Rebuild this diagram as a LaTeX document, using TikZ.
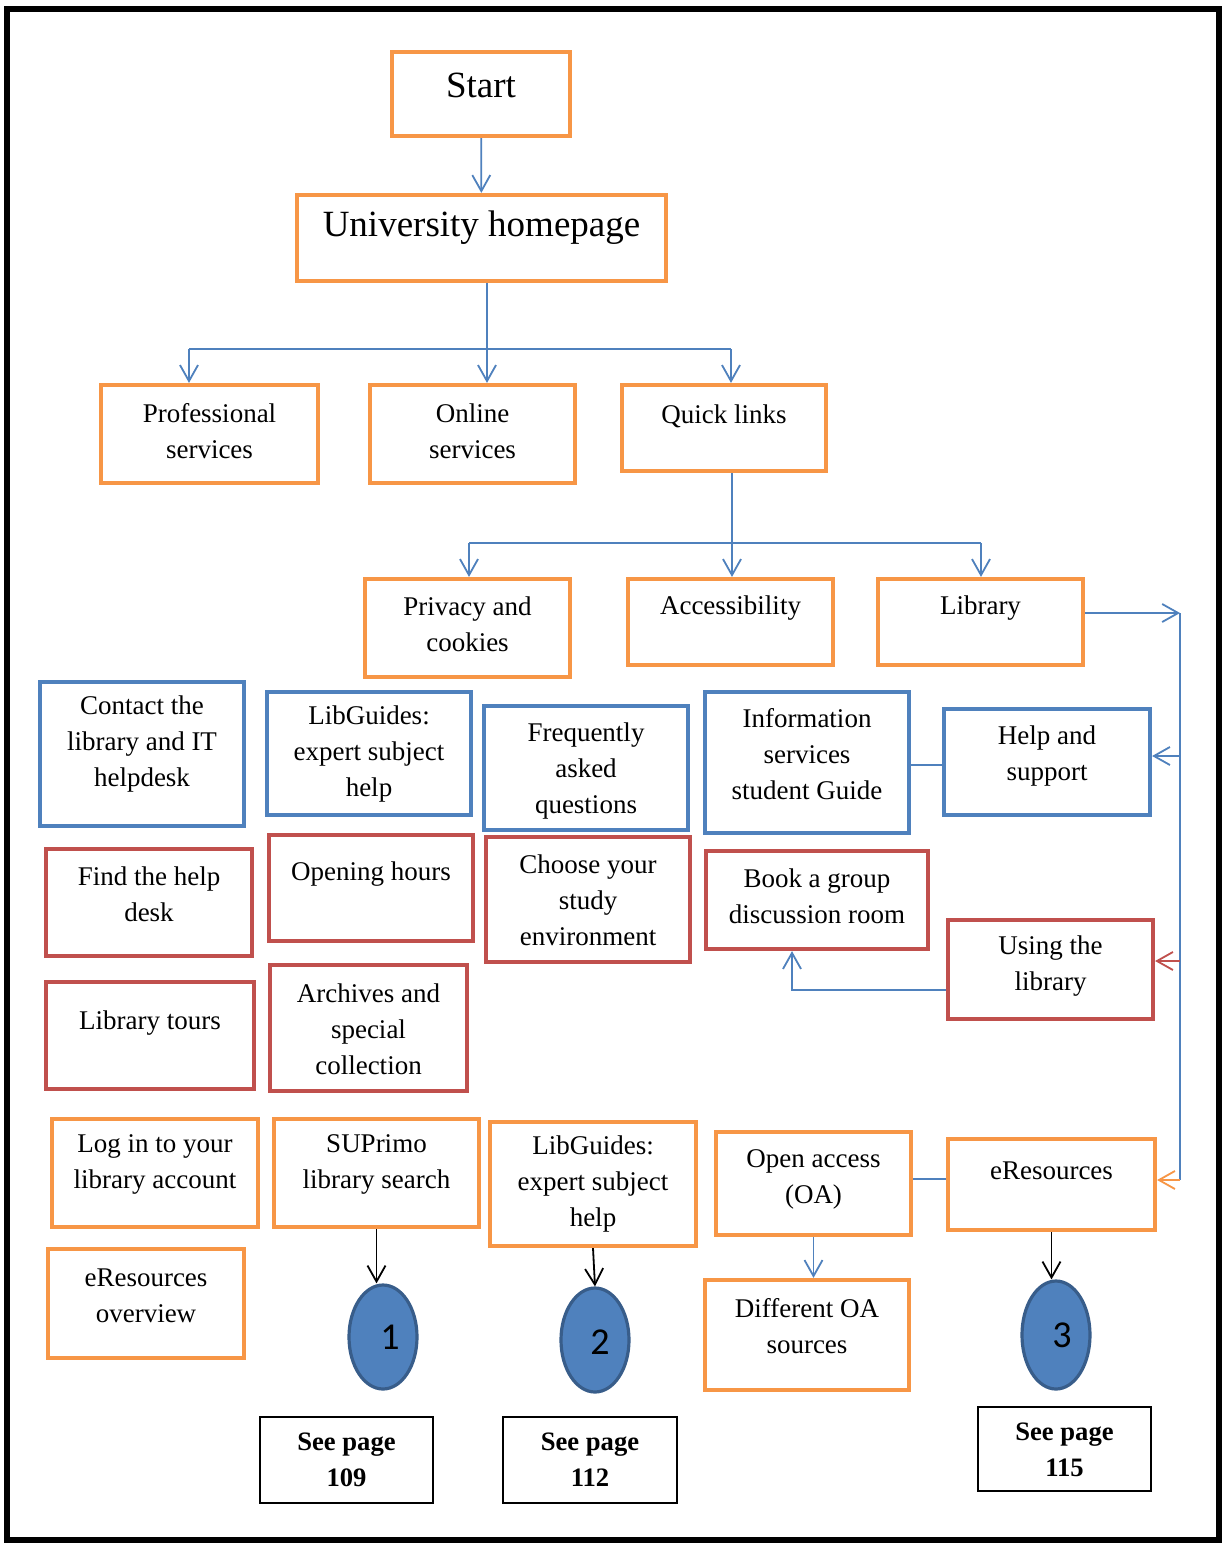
\documentclass[tikz,border=0pt]{standalone}
\usepackage{fontspec}
\setmainfont{Liberation Serif}
\newfontfamily\numfont{Carlito}
\usetikzlibrary{arrows.meta,shapes.geometric}
\definecolor{boxorange}{HTML}{F79646}
\definecolor{boxblue}{HTML}{4F81BD}
\definecolor{boxred}{HTML}{C0504D}
\definecolor{ovalline}{HTML}{385D8A}

% #1 box style, #2 text style, #3 name, #4/#5 top-left, #6/#7 bottom-right,
% #8 vertical centre of the text, #9 text
\newcommand\flowbox[9]{%
  \node[#1, minimum width={(#6-#4-4)*0.5pt}, minimum height={(#7-#5-4)*0.5pt},
        label={[#2, shift={(0,{#8-(#5+#7)/2})}]center:{#9}}]
       (#3) at ({(#4+#6)/2},{(#5+#7)/2}) {};}

\begin{document}
\begin{tikzpicture}[x=0.5pt, y=-0.5pt,
  basebox/.style={rectangle, line width=2.1pt, inner sep=0pt, fill=white},
  obox/.style={basebox, draw=boxorange},
  bbox/.style={basebox, draw=boxblue},
  rbox/.style={basebox, draw=boxred},
  pbox/.style={rectangle, draw=black, line width=1pt, inner sep=0pt},
  btxt/.style={align=center, inner sep=0pt, font=\fontsize{13.5}{18}\selectfont},
  bigtxt/.style={align=center, inner sep=0pt, font=\fontsize{18.5}{22}\selectfont},
  ptxt/.style={align=center, inner sep=0pt, font=\bfseries\fontsize{13.3}{18}\selectfont},
  numtxt/.style={inner sep=0pt, font=\numfont\fontsize{19}{22}\selectfont},
  oval/.style={ellipse, draw=ovalline, line width=1.6pt, fill=boxblue, inner sep=0pt},
  conn/.style={draw=boxblue, line width=0.9pt},
  arr/.style={conn, -{Straight Barb[length=8pt,width=9pt]}},
  karr/.style={draw=black, line width=0.9pt, -{Straight Barb[length=8pt,width=9pt]}}]

% page and frame
\fill[white] (0,0) rectangle (1223,1544);
\draw[line width=3pt] (7,8.5) rectangle (1219,1540);

% top levels
\flowbox{obox}{bigtxt}{start}{390}{50}{572}{138}{85}{Start}
\flowbox{obox}{bigtxt}{uni}{295}{193}{668}{283}{228}{University homepage}
\flowbox{obox}{btxt}{prof}{99}{383}{320}{485}{431.5}{Professional\\services}
\flowbox{obox}{btxt}{online}{368}{383}{577}{485}{431.5}{Online\\services}
\flowbox{obox}{btxt}{quick}{620}{383}{828}{473}{416}{Quick links}
\flowbox{obox}{btxt}{privacy}{363}{577}{572}{679}{624}{Privacy and\\cookies}
\flowbox{obox}{btxt}{access}{626}{577}{835}{667}{608}{Accessibility}
\flowbox{obox}{btxt}{lib}{876}{577}{1085}{667}{608}{Library}

% help and support group
\flowbox{bbox}{btxt}{contact}{38}{680}{246}{828}{744}{Contact the\\library and IT\\helpdesk}
\flowbox{bbox}{btxt}{libga}{265}{690}{473}{817}{754}{LibGuides:\\expert subject\\help}
\flowbox{bbox}{btxt}{faq}{482}{704}{690}{832}{771}{Frequently\\asked\\questions}
\flowbox{bbox}{btxt}{info}{703}{690}{911}{835}{754}{Information\\services\\student Guide}
\flowbox{bbox}{btxt}{help}{942}{707}{1152}{817}{755.5}{Help and\\support}

% using the library group
\flowbox{rbox}{btxt}{findhelp}{44}{847}{254}{958}{894}{Find the help\\desk}
\flowbox{rbox}{btxt}{hours}{267}{833}{475}{943}{874}{Opening hours}
\flowbox{rbox}{btxt}{choose}{484}{835}{692}{964}{900}{Choose your\\study\\environment}
\flowbox{rbox}{btxt}{book}{704}{849}{930}{951}{896}{Book a group\\discussion room}
\flowbox{rbox}{btxt}{use}{946}{918}{1155}{1021}{966.5}{Using the\\library}
\flowbox{rbox}{btxt}{tours}{44}{980}{256}{1091}{1023}{Library tours}
\flowbox{rbox}{btxt}{archives}{268}{963}{469}{1093}{1029}{Archives and\\special\\collection}

% eResources group
\flowbox{obox}{btxt}{login}{50}{1117}{260}{1229}{1164.5}{Log in to your\\library account}
\flowbox{obox}{btxt}{suprimo}{272}{1117}{481}{1229}{1164.5}{SUPrimo\\library search}
\flowbox{obox}{btxt}{libgb}{488}{1120}{698}{1248}{1184}{LibGuides:\\expert subject\\help}
\flowbox{obox}{btxt}{oa}{714}{1130}{913}{1237}{1179}{Open access\\(OA)}
\flowbox{obox}{btxt}{eres}{946}{1137}{1157}{1232}{1171}{eResources}
\flowbox{obox}{btxt}{diffoa}{703}{1278}{911}{1392}{1326.5}{Different OA\\sources}
\flowbox{obox}{btxt}{eover}{46}{1247}{246}{1360}{1295.5}{eResources\\overview}

% page references
\node[oval, minimum width=34pt, minimum height=52pt,
      label={[numtxt, shift={(7,0)}]center:1}] (one) at (383,1337) {};
\node[oval, minimum width=34pt, minimum height=52pt,
      label={[numtxt, shift={(5,2)}]center:2}] (two) at (595,1340) {};
\node[oval, minimum width=34pt, minimum height=54pt,
      label={[numtxt, shift={(6,0)}]center:3}] (three) at (1056,1335) {};
\flowbox{pbox}{ptxt}{pg109}{258}{1415}{435}{1505}{1460}{See page\\109}
\flowbox{pbox}{ptxt}{pg112}{501}{1415}{679}{1505}{1460}{See page\\112}
\flowbox{pbox}{ptxt}{pg115}{976}{1405}{1153}{1493}{1450}{See page\\115}

% junction points of the connectors
\coordinate (hubA)  at (487,349);
\coordinate (hubAL) at (189,349);
\coordinate (hubAR) at (731,349);
\coordinate (hubB)  at (732,543);
\coordinate (hubBL) at (469,543);
\coordinate (hubBR) at (981,543);
\coordinate (railT) at (1180,613);
\coordinate (railB) at (1180,1180);
\coordinate (tapHelp) at (1180,756);
\coordinate (tapUse)  at (1180,961);
\coordinate (elbow) at (792,990);
\coordinate (oaLink) at (0,1179);
\coordinate (infoLink) at (0,765);

% connectors
\draw[arr] (start) -- (uni);
\draw[arr] (hubA |- uni.south) -- (hubA |- online.north);
\draw[conn] (hubAL) -- (hubAR);
\draw[arr] (hubAL) -- (hubAL |- prof.north);
\draw[arr] (hubAR) -- (hubAR |- quick.north);

\draw[arr] (hubB |- quick.south) -- (hubB |- access.north);
\draw[conn] (hubBL) -- (hubBR);
\draw[arr] (hubBL) -- (hubBL |- privacy.north);
\draw[arr] (hubBR) -- (hubBR |- lib.north);

\draw[arr] (lib.east |- railT) -- (railT);
\draw[conn] (railT) -- (railB);
\draw[arr] (tapHelp) -- (tapHelp -| help.east);
\draw[arr, draw=boxred] (tapUse) -- (tapUse -| use.east);
\draw[arr, draw=boxorange] (railB) -- (railB -| eres.east);

\draw[conn] (info.east |- infoLink) -- (help.west |- infoLink);
\draw[arr] (elbow -| use.west) -- (elbow) -- (elbow |- book.south);

\draw[conn] (oa.east |- oaLink) -- (eres.west |- oaLink);
\draw[arr] (oa.south) -- (oa.south |- diffoa.north);

\draw[karr] (suprimo.south) -- (suprimo.south |- one.north);
\draw[karr] (libgb.south) -- (two.north);
\draw[karr] (eres.south) -- (eres.south |- three.north);
\end{tikzpicture}
\end{document}
